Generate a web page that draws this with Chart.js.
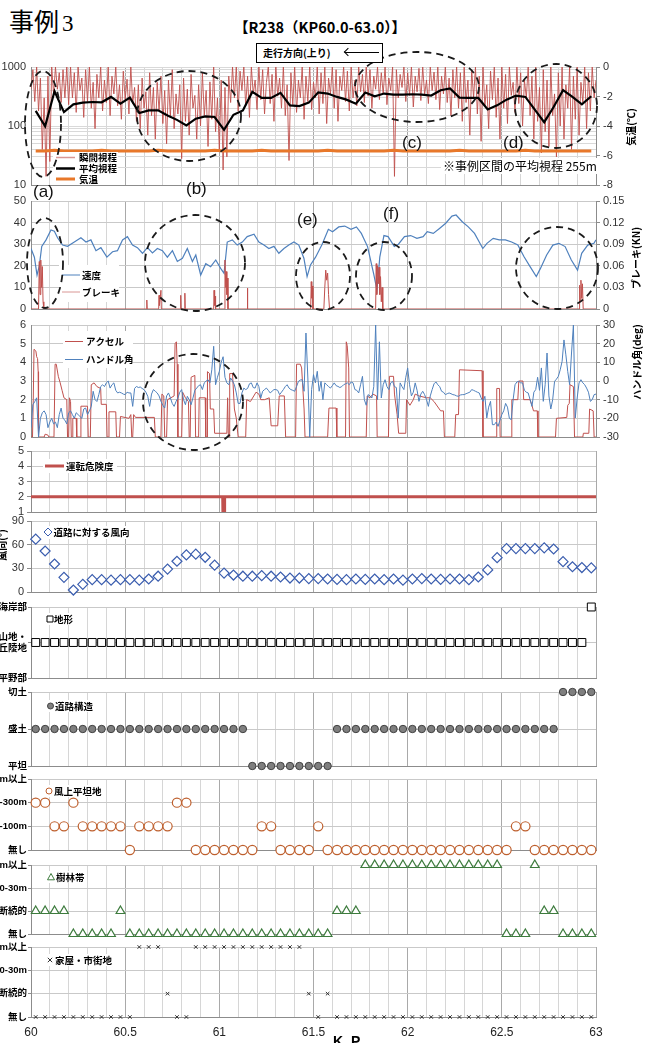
<!DOCTYPE html>
<html lang="ja">
<head>
<meta charset="utf-8">
<script src="https://cdn.jsdelivr.net/npm/chart.js@4.4.1/dist/chart.umd.min.js"></script>
<style>
  body { margin: 0; width: 648px; height: 1043px; overflow: hidden; background: #fff; position: relative; font-family: 'Noto Sans CJK JP', sans-serif; }
  .panel { position: absolute; }
  .txt { position: absolute; white-space: nowrap; color: #000; }
  .tag { position: absolute; font-family: 'Liberation Sans', Arial, sans-serif; font-size: 17px; line-height: 18px; color: #111; }
</style>
</head>
<body>
<script>
// ---------------- data ----------------
const kpMin = 60, kpMax = 63;

// section values (every 50 m, centred in each section)
const sectionStart = 60.025, sectionStep = 0.05;

// 瞬間視程 (m) sampled every 10 m from KP60.00
const instStart = 60.0, instStep = 0.01;
const instVis = [
  420,900,260,1000,180,650,40,300,14,700,
  25,1000,350,1000,420,800,250,900,300,1000,
  230,1000,300,800,170,1000,400,650,140,900,
  260,1000,200,550,90,750,300,1000,180,600,
  250,1000,150,700,350,1000,220,500,130,850,
  280,620,160,1000,240,450,120,500,90,650,
  200,380,70,800,150,450,60,550,180,700,
  110,400,50,600,140,900,90,350,160,500,
  28,650,120,420,70,750,200,330,60,500,
  100,800,150,400,45,560,130,1000,80,300,
  40,600,18,450,30,700,250,1000,300,1000,
  180,850,400,1000,220,700,140,1000,350,600,
  190,1000,280,900,160,550,1000,240,750,120,
  1000,320,650,200,1000,150,500,26,800,230,
  1000,170,600,300,1000,130,700,260,1000,190,
  550,300,1000,160,800,240,1000,110,650,350,
  1000,200,900,120,700,400,1000,260,850,180,
  1000,300,600,220,1000,380,750,250,1000,320,
  900,200,700,420,1000,280,800,350,1000,230,
  650,400,1000,14,900,300,750,450,1000,260,
  800,330,1000,210,700,380,950,270,1000,340,
  600,240,1000,400,820,280,1000,190,700,350,
  1000,250,650,150,900,300,1000,200,800,120,
  1000,250,600,70,900,300,1000,160,700,55,
  1000,220,500,90,850,280,1000,140,650,60,
  1000,200,750,110,1000,330,550,170,1000,240,
  800,100,600,300,1000,150,700,60,1000,120,
  450,35,900,80,600,45,1000,150,350,30,
  800,100,1000,60,500,200,1000,40,700,130,
  1000,70,550,250,1000,90,800,180,1000,300,
  600
];

// 平均視程 (m) per section
const meanVis = [
  180,99,389,172,233,249,255,252,311,239,
  303,166,184,184,151,127,102,133,145,142,
  86,155,184,378,299,299,364,224,218,249,
  370,355,311,280,239,369,319,355,341,341,
  345,341,328,404,432,303,299,299,191,224,
  280,328,311,189,116,210,404,311,233,319
];

// 気温 (℃) per section
const airTemp = [
  -5.7,-5.7,-5.65,-5.7,-5.7,-5.7,-5.7,-5.65,-5.7,-5.7,
  -5.7,-5.7,-5.7,-5.65,-5.7,-5.7,-5.7,-5.7,-5.7,-5.65,
  -5.7,-5.7,-5.7,-5.7,-5.65,-5.7,-5.7,-5.7,-5.7,-5.7,
  -5.7,-5.65,-5.7,-5.7,-5.7,-5.7,-5.7,-5.7,-5.65,-5.7,
  -5.7,-5.7,-5.7,-5.7,-5.7,-5.65,-5.7,-5.7,-5.7,-5.7,
  -5.7,-5.7,-5.65,-5.7,-5.7,-5.7,-5.7,-5.7,-5.7,-5.7
];

// 速度 (km/h)
const speedKp = [
  60.000,60.018,60.032,60.044,60.057,60.080,60.106,60.124,60.141,60.168,
  60.194,60.230,60.265,60.292,60.318,60.345,60.371,60.403,60.433,60.459,
  60.486,60.512,60.539,60.565,60.592,60.618,60.645,60.671,60.698,60.724,
  60.751,60.777,60.804,60.830,60.857,60.875,60.901,60.928,60.954,60.981,
  61.007,61.025,61.042,61.069,61.095,61.122,61.148,61.184,61.210,61.237,
  61.263,61.290,61.316,61.343,61.369,61.396,61.422,61.449,61.466,61.484,
  61.511,61.546,61.579,61.601,61.634,61.666,61.699,61.728,61.754,61.787,
  61.819,61.837,61.852,61.874,61.896,61.929,61.951,61.983,62.016,62.049,
  62.082,62.104,62.136,62.169,62.202,62.235,62.257,62.290,62.322,62.355,
  62.399,62.421,62.454,62.486,62.519,62.552,62.585,62.618,62.650,62.683,
  62.705,62.738,62.771,62.803,62.836,62.869,62.902,62.924,62.956,62.989,63.000
];
const speedKmh = [
  28,24,15.7,20,29,32,36.6,36,33,29.6,
  29,31,33,31,32,27,28.4,24,26.5,27,
  32,33.5,29.6,28.4,25.8,28.4,26,28,27,24,
  27,22,23.5,28,22,25,15.7,21,19.6,22.7,
  18.8,16.5,31,32,29.6,31,33.5,34.6,31,29.6,
  28,29,25.8,28,29.6,31,29.6,23.5,15,20.4,
  24,30,36.9,35.8,38,38.4,36.9,38,35,28.9,
  16.5,8.8,24,34,33.5,29,30,33.5,34,32.7,
  33.5,35.8,35,37.3,39.7,43,43.5,40.4,38,35,
  28,30.4,32.7,32,32,31,29.6,24.2,19.6,15,
  18.8,25,29.6,30.4,28.9,22.7,18,25.8,29.6,30.4,32
];

// ブレーキ (kN) [KP, value]
const brakePts = [
  [60.000,0],[60.040,0],[60.044,0.066],[60.048,0.02],[60.052,0.068],[60.056,0.03],[60.060,0.059],[60.064,0.01],[60.068,0],
  [60.613,0],[60.615,0.0125],[60.617,0],
  [60.678,0],[60.680,0.019],[60.682,0.005],[60.690,0.026],[60.692,0],
  [60.793,0],[60.795,0.019],[60.797,0],[60.815,0],[60.817,0.022],[60.819,0],
  [60.970,0],[60.972,0.026],[60.975,0.005],[60.978,0.018],[60.980,0],
  [61.028,0],[61.030,0.068],[61.034,0.03],[61.037,0.052],[61.040,0.02],[61.043,0.043],[61.046,0],
  [61.147,0],[61.149,0.029],[61.151,0],
  [61.485,0],[61.488,0.038],[61.491,0.015],[61.494,0.032],[61.497,0],
  [61.555,0],[61.560,0.03],[61.565,0.054],[61.570,0.04],[61.575,0.05],[61.580,0.02],[61.585,0],
  [61.830,0],[61.833,0.063],[61.836,0.02],[61.840,0.06],[61.844,0.035],[61.848,0.058],[61.852,0.02],
  [61.856,0.045],[61.860,0.01],[61.864,0.03],[61.868,0],
  [62.910,0],[62.913,0.033],[62.916,0.01],[62.920,0.04],[62.924,0.015],[62.928,0.035],[62.932,0],
  [63.000,0]
];

// アクセル [KP, value]
const accelPts = [
  [60.000,0],[60.008,0],[60.012,2.0],[60.016,4.7],[60.026,4.6],[60.030,4.3],[60.035,4.2],[60.038,3.5],[60.040,0],
  [60.070,0],[60.075,0.15],[60.090,0.1],[60.095,0],[60.122,0],[60.128,3.9],[60.134,3.9],[60.145,3.25],
  [60.155,2.9],[60.165,2.5],[60.175,2.1],[60.190,2.0],[60.194,0],[60.200,0],[60.204,2.1],[60.210,1.9],[60.214,0],
  [60.220,0],[60.222,1.0],[60.240,1.0],[60.243,0],[60.262,0],[60.265,1.65],[60.300,1.65],[60.304,0],
  [60.315,0],[60.320,2.8],[60.335,2.9],[60.350,2.7],[60.370,2.6],[60.373,1.75],[60.400,1.75],[60.404,0],
  [60.410,0],[60.414,1.35],[60.450,1.35],[60.454,0],[60.470,0],[60.475,1.1],[60.520,1.0],[60.530,1.2],[60.535,0],
  [60.540,0],[60.545,1.2],[60.555,1.05],[60.655,1.05],[60.660,0],[60.690,0],[60.695,2.3],[60.705,2.2],[60.710,0],
  [60.720,0],[60.725,2.0],[60.760,2.2],[60.765,5.0],[60.772,5.1],[60.776,3.9],[60.780,0],
  [60.800,0],[60.805,2.4],[60.820,2.1],[60.836,1.9],[60.840,0],[60.845,0],[60.850,3.2],[60.870,3.3],[60.874,0],
  [60.890,0],[60.893,2.1],[60.925,2.1],[60.928,0],[60.935,0],[60.937,3.5],[60.948,3.4],[60.952,1.5],[60.970,1.5],
  [60.975,0.2],[61.040,0.2],[61.044,2.1],[61.048,0],[61.052,0],[61.055,3.4],[61.070,3.4],[61.080,1.5],[61.090,1.0],[61.100,0],
  [61.140,0],[61.145,2.0],[61.165,1.9],[61.195,2.4],[61.210,2.3],[61.220,2.0],[61.240,2.0],[61.265,2.1],[61.275,0.6],
  [61.310,0.6],[61.318,2.2],[61.345,2.2],[61.352,0],[61.405,0],[61.410,3.9],[61.430,3.9],[61.437,3.7],[61.450,1.5],[61.455,0],
  [61.575,0],[61.582,1.55],[61.620,1.55],[61.624,0],[61.670,0],[61.674,5.1],[61.679,4.9],[61.687,3.7],[61.691,0],
  [61.780,0],[61.785,2.2],[61.800,2.1],[61.815,2.3],[61.835,2.2],[61.838,0],[61.898,0],[61.903,3.25],[61.925,3.25],
  [61.930,2.3],[61.944,1.2],[61.952,0.2],[61.990,0.2],[61.994,2.0],[62.012,1.7],[62.030,2.0],[62.040,2.3],[62.060,2.2],
  [62.100,2.1],[62.120,2.1],[62.140,1.9],[62.175,1.4],[62.190,1.4],[62.195,0],[62.250,0],[62.255,1.2],[62.270,1.2],
  [62.275,3.6],[62.395,3.55],[62.400,0],[62.470,0],[62.473,2.6],[62.488,2.6],[62.491,0],[62.550,0],[62.553,2.0],
  [62.585,2.0],[62.590,3.0],[62.612,3.0],[62.616,2.0],[62.650,2.0],[62.660,1.7],[62.668,1.4],[62.688,1.4],[62.692,0],
  [62.785,0],[62.790,1.0],[62.845,1.05],[62.850,1.7],[62.858,1.8],[62.862,2.8],[62.880,2.7],[62.886,0],
  [62.930,0],[62.933,0.2],[62.962,0.2],[62.966,1.5],[62.985,1.4],[62.990,0],[63.000,0]
];

// ハンドル角 (deg) sampled every 10 m from KP60.00
const handleStart = 60.0, handleStep = 0.01;
const handleDeg = [
  -25,-12.7,-11,-9,-30,-20,-17,-16,-18,-25,
  -22,-20,-23,-22,-25,-18,-14.5,-20,-21,-23,
  -17,-16,-18,-20,-17,-18,-19,-20,-15,-14.5,
  -18,-16,-13.6,-5.5,-10,-11,-7.3,-3,-2,-3,
  -1,0,-3.8,-2,-1,-5,-6.4,-6,-6.4,-7,
  -7.3,-6,-6.4,-6.4,-13.6,-4,-2.9,-3.5,-3.2,-4,
  -4.6,-6,-8.2,-13.6,-7,-4.6,-5.5,-6.4,-8,-10.9,
  -13,-14.5,-8,-6.4,-9,-12,-13.6,-11,-9.1,-6,
  -4.6,-10,-12.7,-8.2,-10,-12.7,-9.1,-5,-3.8,-2.5,
  -2,-4.6,-1,0,0.7,-1,6,18.6,-2,2,
  5.2,10,13,2,-1,-2,1.6,0,-2,-6.4,
  -12,-12,-6.4,-3.8,-4.6,-4,-1.5,-1,-3.5,-3.8,
  -1,-3,-9.1,-5.5,-4.6,-3.8,-5,-6.4,-5.5,-4.6,
  -4.6,-5,-7.3,-6,-4.6,-3,-2,-3.8,-4.6,-5,
  -5.5,-3,-0.2,0.5,0.7,-5.5,25.7,1.6,-30,-4.6,
  3.4,-1,5.2,-5.5,-0.2,-10,-1,-2,-3,-3.8,
  -2.5,-1,-2.5,-2.9,-3.5,-3,-2,-1.5,-1,-2,
  -0.5,-1,-4.6,-5,-6.4,-2,2.5,-10,-13,-7.3,
  -8,-9.1,-3,30,-10,21,-9.1,-2,0.7,-3,
  -4.6,-1,-0.2,-3,-3.5,-19.8,-1,-3,-4.6,2,
  7,-2,-8,-6,-1,-5,-10.9,-7,-5.5,-7.3,
  -10,-13.6,-8,-4.6,-1.5,-0.5,-2,-3,-5.5,-6,
  -7.3,-6.8,-6.4,-6.8,-7.3,-7.5,-8,-8.2,-7.5,-7.3,
  -7.3,-6.8,-6.4,-6,-4.6,-5,-5.5,-6,-6.4,-9,
  -10.9,-8.2,-19.8,-14,-10.9,-23.4,-23.4,-22,-24.3,-21,
  -18,-16,-12,-14,-20,-20.7,-10,-2,-0.5,-0.2,
  -1,-1,-5,-6,-6.4,-10,-13.6,-6,-4.6,2,
  -5,7,-10.9,-2,15,-8,-15,-10,-0.2,1,
  2.5,6,10.5,22,14,5,-2,15,30,-19.8,
  -9.1,-1,0.7,-1,-2,-3.8,-6,-10.9,-10,-7.3,
  -7
];

// 運転危険度
const riskKp = [60, 61.018, 61.019, 61.027, 61.028, 63];
const riskLevel = [2, 2, 1, 1, 2, 2];

// 道路に対する風向 (°) per section
const windDir = [
  67,52,35.5,18.6,2.5,9.7,15.6,15.6,15,15.6,
  15.6,15,16.5,20,29,39,47,48,44,34,
  24,21.5,20,20,20.7,20,19,17.7,17.7,17,
  17,16.5,16,15.6,16.5,16,16.5,15.6,16.5,15,
  16.5,17,16.5,16,16.5,16.5,15.6,19,28,43.5,
  55,55,55,55,56,54.5,38.5,32,31,30.5
];

// categorical series (level index into the label lists)
const terrainLabels = ['平野部', ['山地・', '丘陵地'], '海岸部'];
const terrainLevel = [
  1,1,1,1,1,1,1,1,1,1, 1,1,1,1,1,1,1,1,1,1, 1,1,1,1,1,1,1,1,1,1,
  1,1,1,1,1,1,1,1,1,1, 1,1,1,1,1,1,1,1,1,1, 1,1,1,1,1,1,1,1,1,2
];
const roadLabels = ['平坦', '盛土', '切土'];
const roadLevel = [
  1,1,1,1,1,1,1,1,1,1, 1,1,1,1,1,1,1,1,1,1, 1,1,1,0,0,0,0,0,0,0,
  0,0,1,1,1,1,1,1,1,1, 1,1,1,1,1,1,1,1,1,1, 1,1,1,1,1,1,2,2,2,2
];
const flatLabels = ['無し', '50-100m', '100-300m', '300m以上'];
const flatLevel = [
  2,2,1,1,2,1,1,1,1,1, 0,1,1,1,1,2,2,0,0,0, 0,0,0,0,1,1,0,0,0,0,
  1,0,0,0,0,0,0,0,0,0, 0,0,0,0,0,0,0,0,0,0, 0,1,1,0,0,0,0,0,0,0
];
const forestLabels = ['無し', '断続的', '10-30m', '30m以上'];
const forestLevel = [
  1,1,1,1,0,0,0,0,0,1, 0,0,0,0,0,0,0,0,0,0, 0,0,0,0,0,0,0,0,0,0,
  0,0,1,1,1,3,3,3,3,3, 3,3,3,3,3,3,3,3,3,3, 0,0,0,3,1,1,0,0,0,0
];
const houseLabels = ['無し', '断続的', '10-30m', '30m以上'];
const houseLevel = [
  0,0,0,0,0,0,0,0,0,0, 0,3,3,3,1,0,0,3,3,3, 3,3,3,3,3,3,3,3,3,1,
  0,1,0,0,0,0,0,0,0,0, 0,0,0,0,0,0,0,0,0,0, 0,0,0,0,0,0,0,0,0,0
];

// ---------------- layout ----------------
const PLOT_LEFT = 31, PLOT_RIGHT = 596, CANVAS_LEFT = -59, CANVAS_W = 707;
const AXIS_L = PLOT_LEFT - CANVAS_LEFT;
const AXIS_R = CANVAS_LEFT + CANVAS_W - PLOT_RIGHT;
const PAD = 20;
const NUM_FONT = "'Liberation Sans', Arial, sans-serif";
const JP_FONT = "'Noto Sans CJK JP', sans-serif";
const CAT_FONT = "'Liberation Sans', 'Noto Sans CJK JP', sans-serif";
const axisColor = '#8c8c8c', gridColor = '#c9c9c9';

const sectionKp = windDir.map((_, i) => +(sectionStart + i * sectionStep).toFixed(3));
const xy = (xs, ys) => ys.map((y, i) => ({ x: xs[i], y }));
const isHalf = v => Math.abs(v * 2 - Math.round(v * 2)) < 1e-6;

function drawMark(ctx, kind, x, y, r, stroke, fill) {
  ctx.save();
  ctx.strokeStyle = stroke; ctx.fillStyle = fill || '#fff'; ctx.lineWidth = 1;
  ctx.beginPath();
  if (kind === 'rect') ctx.rect(x - r, y - r, 2 * r, 2 * r);
  else if (kind === 'circle') ctx.arc(x, y, r, 0, Math.PI * 2);
  else if (kind === 'rectRot') { ctx.moveTo(x, y - r); ctx.lineTo(x + r, y); ctx.lineTo(x, y + r); ctx.lineTo(x - r, y); ctx.closePath(); }
  else if (kind === 'triangle') { ctx.moveTo(x, y - r); ctx.lineTo(x + r, y + r * 0.8); ctx.lineTo(x - r, y + r * 0.8); ctx.closePath(); }
  if (kind === 'crossRot') {
    ctx.moveTo(x - r, y - r); ctx.lineTo(x + r, y + r); ctx.moveTo(x + r, y - r); ctx.lineTo(x - r, y + r);
  } else ctx.fill();
  ctx.stroke();
  ctx.restore();
}

// legends, dashed rings and axis titles, given in page pixels
function decorPlugin(d, ox, oy) {
  return {
    id: 'decor',
    afterDraw(chart) {
      const ctx = chart.ctx;
      ctx.save();
      if (d.box) {
        ctx.fillStyle = '#fff';
        ctx.fillRect(d.box[0] - ox, d.box[1] - oy, d.box[2], d.box[3]);
      }
      (d.items || []).forEach(it => {
        const y = it.y - oy;
        if (it.line) {
          ctx.strokeStyle = it.line; ctx.lineWidth = it.w || 1;
          ctx.beginPath(); ctx.moveTo(it.x1 - ox, y); ctx.lineTo(it.x2 - ox, y); ctx.stroke();
        }
        if (it.mark) drawMark(ctx, it.mark, it.mx - ox, y, it.r, it.stroke, it.fill);
        ctx.fillStyle = '#000';
        ctx.font = 'bold 9.5px ' + JP_FONT;
        ctx.textBaseline = 'middle';
        ctx.fillText(it.text, it.tx - ox, y);
      });
      ctx.strokeStyle = '#1a1a1a'; ctx.lineWidth = 1.8; ctx.setLineDash([7, 5]);
      (d.rings || []).forEach(r => {
        ctx.beginPath(); ctx.ellipse(r[0] - ox, r[1] - oy, r[2], r[3], 0, 0, Math.PI * 2); ctx.stroke();
      });
      ctx.setLineDash([]);
      (d.titles || []).forEach(t => {
        ctx.save();
        ctx.translate(t.x - ox, t.y - oy); ctx.rotate(-Math.PI / 2);
        ctx.fillStyle = '#000'; ctx.font = 'bold 10px ' + JP_FONT;
        ctx.textAlign = 'center'; ctx.textBaseline = 'middle';
        ctx.fillText(t.text, 0, 0);
        ctx.restore();
      });
      ctx.restore();
    }
  };
}

function xAxis(withLabels) {
  return {
    type: 'linear', position: 'bottom', min: kpMin, max: kpMax,
    afterFit: s => { s.height = withLabels ? 40 : 0; },
    border: { color: axisColor },
    grid: { color: c => (c.tick && isHalf(c.tick.value)) ? '#a9a9a9' : '#d6d6d6', drawTicks: false },
    ticks: {
      stepSize: 0.1, autoSkip: false, maxRotation: 0, display: withLabels, padding: 8,
      color: '#222', font: { family: NUM_FONT, size: 12 },
      callback: v => isHalf(v) ? String(Math.round(v * 10) / 10) : ''
    }
  };
}

function leftAxis(o) {
  const ticks = { autoSkip: false, padding: o.cat ? 1 : (o.marks ? 3 : 5), color: o.cat ? '#000' : '#333',
    font: o.cat ? { family: CAT_FONT, size: 9.5, weight: 'bold', lineHeight: 1.15 } : { family: NUM_FONT, size: 11 } };
  if (o.step) ticks.stepSize = o.step;
  if (o.label) ticks.callback = o.label;
  return {
    type: o.type || 'linear', position: 'left', min: o.min, max: o.max,
    afterFit: s => { s.width = AXIS_L; },
    border: { color: axisColor },
    grid: { color: o.grid || gridColor, drawTicks: !!o.marks, tickLength: o.cat ? 3 : 4, tickColor: axisColor },
    ticks
  };
}

function rightAxis(o) {
  const ticks = { autoSkip: false, padding: 3, color: '#333', font: { family: NUM_FONT, size: 11 }, stepSize: o.step };
  if (o.label) ticks.callback = o.label;
  return {
    type: 'linear', position: 'right', min: o.min, max: o.max,
    afterFit: s => { s.width = AXIS_R; },
    border: { color: axisColor },
    grid: { drawOnChartArea: false, drawTicks: true, tickLength: 4, color: axisColor },
    ticks
  };
}

function makePanel(p) {
  const ox = CANVAS_LEFT, oy = p.top - PAD;
  const h = p.bottom - p.top + PAD + (p.xLabels ? 40 : PAD);
  const wrap = document.createElement('div');
  wrap.className = 'panel';
  wrap.style.left = ox + 'px';
  wrap.style.top = oy + 'px';
  const cv = document.createElement('canvas');
  cv.width = CANVAS_W; cv.height = h;
  cv.style.width = CANVAS_W + 'px'; cv.style.height = h + 'px';
  wrap.appendChild(cv);
  document.body.appendChild(wrap);
  return new Chart(cv, {
    type: 'line',
    data: { datasets: p.datasets },
    options: {
      responsive: false, animation: false, events: [],
      layout: { padding: { top: PAD, bottom: p.xLabels ? 0 : PAD, left: 0, right: p.scales.y1 ? 0 : AXIS_R } },
      plugins: { legend: { display: false }, tooltip: { enabled: false } },
      scales: Object.assign({ x: xAxis(!!p.xLabels) }, p.scales)
    },
    plugins: [decorPlugin(p.decor || {}, ox, oy)]
  });
}

const lineSet = (label, data, color, width, axis) => ({
  label, data, borderColor: color, borderWidth: width, pointRadius: 0, tension: 0, yAxisID: axis || 'y'
});
const markSet = (label, data, style, radius, stroke, fill, bw) => ({
  label, data, showLine: false, pointStyle: style, pointRadius: radius, pointBorderColor: stroke,
  pointBackgroundColor: fill, pointBorderWidth: bw || 1, borderColor: stroke, backgroundColor: fill, clip: false
});
const catAxis = labels => leftAxis({ min: 0, max: labels.length - 1, step: 1, marks: true, cat: true,
  label: v => labels[v] !== undefined ? labels[v] : '' });

// ---- panel 1: visibility & temperature
const instKp = instVis.map((_, k) => +(instStart + k * instStep).toFixed(2));
makePanel({
  top: 67, bottom: 185,
  datasets: [
    lineSet('平均視程', xy(sectionKp, meanVis), '#000', 2.2),
    lineSet('気温', xy(sectionKp, airTemp), '#E8782A', 3, 'y1'),
    lineSet('瞬間視程', xy(instKp, instVis), 'rgba(192,80,77,0.9)', 1)
  ],
  scales: {
    y: leftAxis({ type: 'logarithmic', min: 10, max: 1000, grid: '#d9d9d9',
      label: v => (v === 10 || v === 100 || v === 1000) ? String(v) : '' }),
    y1: rightAxis({ min: -8, max: 0, step: 2 })
  },
  decor: {
    box: [53, 152, 65, 33],
    items: [
      { line: '#D99694', w: 1.5, x1: 56, x2: 75, y: 157.5, tx: 79, text: '瞬間視程' },
      { line: '#000', w: 2.5, x1: 56, x2: 75, y: 168.5, tx: 79, text: '平均視程' },
      { line: '#E8782A', w: 3, x1: 56, x2: 75, y: 179, tx: 79, text: '気温' }
    ],
    rings: [[43, 124, 18, 53], [189, 116, 52, 45], [417, 87, 62, 35], [556, 106, 41, 42]],
    titles: [{ x: 631, y: 127, text: '気温(℃)' }]
  }
});

// ---- panel 2: speed & brake
makePanel({
  top: 201, bottom: 309,
  datasets: [
    lineSet('ブレーキ', brakePts.map(p => ({ x: p[0], y: p[1] })), '#C0504D', 1, 'y1'),
    lineSet('速度', xy(speedKp, speedKmh), '#4F81BD', 1.2)
  ],
  scales: {
    y: leftAxis({ min: 0, max: 50, step: 10 }),
    y1: rightAxis({ min: 0, max: 0.15, step: 0.03, label: v => v === 0 ? '0' : v.toFixed(2) })
  },
  decor: {
    box: [59, 265, 60, 37],
    items: [
      { line: '#4F81BD', w: 1, x1: 62, x2: 80, y: 275, tx: 82, text: '速度' },
      { line: '#D99694', w: 1, x1: 62, x2: 80, y: 292, tx: 82, text: 'ブレーキ' }
    ],
    rings: [[45, 263, 18, 45], [195, 263, 50, 48], [323, 276, 27, 34], [384, 276, 28, 34], [557, 268, 41, 41]],
    titles: [{ x: 636, y: 258, text: 'ブレーキ(KN)' }]
  }
});

// ---- panel 3: accelerator & steering
const handleKp = handleDeg.map((_, k) => +(handleStart + k * handleStep).toFixed(2));
makePanel({
  top: 325, bottom: 437,
  datasets: [
    lineSet('ハンドル角', xy(handleKp, handleDeg), '#4F81BD', 1, 'y1'),
    lineSet('アクセル', accelPts.map(p => ({ x: p[0], y: p[1] })), '#C0504D', 1)
  ],
  scales: {
    y: leftAxis({ min: 0, max: 6, step: 1 }),
    y1: rightAxis({ min: -30, max: 30, step: 10 })
  },
  decor: {
    box: [63, 331, 70, 37],
    items: [
      { line: '#C0504D', w: 1, x1: 65, x2: 83, y: 341.5, tx: 86, text: 'アクセル' },
      { line: '#4F81BD', w: 1, x1: 65, x2: 83, y: 359.5, tx: 86, text: 'ハンドル角' }
    ],
    rings: [[193, 402, 50, 48]],
    titles: [{ x: 637, y: 362, text: 'ハンドル角(deg)' }]
  }
});

// ---- panel 4: driving risk
makePanel({
  top: 451, bottom: 512,
  datasets: [lineSet('運転危険度', xy(riskKp, riskLevel), '#C0504D', 3)],
  scales: { y: leftAxis({ min: 1, max: 5, step: 1, marks: true }) },
  decor: {
    box: [43, 459, 74, 14],
    items: [{ line: '#C0504D', w: 3, x1: 45, x2: 64, y: 466, tx: 66, text: '運転危険度' }]
  }
});

// ---- panel 5: wind direction relative to road
makePanel({
  top: 521, bottom: 592,
  datasets: [markSet('道路に対する風向', xy(sectionKp, windDir), 'rectRot', 5, '#3A5DAE', '#fff', 1.2)],
  scales: { y: leftAxis({ min: 0, max: 90, step: 30, marks: true }) },
  decor: {
    box: [44, 526, 84, 13],
    items: [{ mark: 'rectRot', mx: 48, r: 4, stroke: '#3A5DAE', fill: '#fff', y: 532, tx: 53.5, text: '道路に対する風向' }],
    titles: [{ x: 2, y: 545, text: '風向(°)' }]
  }
});

// ---- panels 6-10: roadside conditions
makePanel({
  top: 607, bottom: 678,
  datasets: [markSet('地形', xy(sectionKp, terrainLevel), 'rect', 5.6, '#000', '#fff')],
  scales: { y: catAxis(terrainLabels) },
  decor: { box: [46, 613, 30, 12], items: [{ mark: 'rect', mx: 50, r: 3, stroke: '#000', y: 619, tx: 54, text: '地形' }] }
});
makePanel({
  top: 692, bottom: 766,
  datasets: [markSet('道路構造', xy(sectionKp, roadLevel), 'circle', 3.7, '#404040', '#7f7f7f')],
  scales: { y: catAxis(roadLabels) },
  decor: { box: [46, 700, 48, 12], items: [{ mark: 'circle', mx: 50.5, r: 3, stroke: '#444', fill: '#808080', y: 706, tx: 55, text: '道路構造' }] }
});
makePanel({
  top: 779, bottom: 850,
  datasets: [markSet('風上平坦地', xy(sectionKp, flatLevel), 'circle', 4.6, '#BE5F2D', '#fff', 1.2)],
  scales: { y: catAxis(flatLabels) },
  decor: { box: [45, 785, 57, 12], items: [{ mark: 'circle', mx: 49, r: 3, stroke: '#BE5F2D', y: 791, tx: 54, text: '風上平坦地' }] }
});
makePanel({
  top: 865, bottom: 934,
  datasets: [markSet('樹林帯', xy(sectionKp, forestLevel), 'triangle', 5, '#3D7B3D', '#fff', 1.2)],
  scales: { y: catAxis(forestLabels) },
  decor: { box: [47, 871, 39, 12], items: [{ mark: 'triangle', mx: 51, r: 3.5, stroke: '#3D7B3D', y: 877, tx: 56, text: '樹林帯' }] }
});
makePanel({
  top: 947, bottom: 1017, xLabels: true,
  datasets: [markSet('家屋・市街地', xy(sectionKp, houseLevel), 'crossRot', 2.5, '#333', '#333')],
  scales: { y: catAxis(houseLabels) },
  decor: { box: [46, 954, 62, 12], items: [{ mark: 'crossRot', mx: 50, r: 2.2, stroke: '#333', y: 960, tx: 55, text: '家屋・市街地' }] }
});
</script>

<div class="txt" style="left:9px;top:3px;font-size:25px;line-height:34px;">事例<span style="font-family:'Liberation Serif',serif;font-size:23px;margin-left:3px;">3</span></div>
<div class="txt" style="left:234px;top:16px;font-size:14.5px;font-weight:bold;line-height:22px;">【R238（KP60.0-63.0）】</div>
<div class="txt" style="left:256px;top:43px;width:125px;height:18px;border:1px solid #000;background:#fff;">
  <span style="position:absolute;left:6px;top:0;font-size:10px;font-weight:bold;line-height:18px;">走行方向(上り)</span>
  <div style="position:absolute;left:88px;top:8px;width:34px;border-top:1.5px solid #000;"></div>
  <div style="position:absolute;left:88px;top:5px;width:5px;height:5px;border-left:1.5px solid #000;border-bottom:1.5px solid #000;transform:rotate(45deg);"></div>
</div>
<div class="txt" style="left:441px;top:158px;font-size:12px;line-height:16px;background:#fff;padding:0 2px;">※事例区間の平均視程 255m</div>
<div class="tag" style="left:33px;top:183px;">(a)</div>
<div class="tag" style="left:186px;top:180px;">(b)</div>
<div class="tag" style="left:402px;top:134px;">(c)</div>
<div class="tag" style="left:503px;top:134px;">(d)</div>
<div class="tag" style="left:297px;top:211px;">(e)</div>
<div class="tag" style="left:383px;top:205px;">(f)</div>
<div class="txt" style="left:333px;top:1033px;font-size:14px;font-weight:bold;font-family:'Liberation Sans',Arial,sans-serif;">K. P</div>
</body>
</html>
